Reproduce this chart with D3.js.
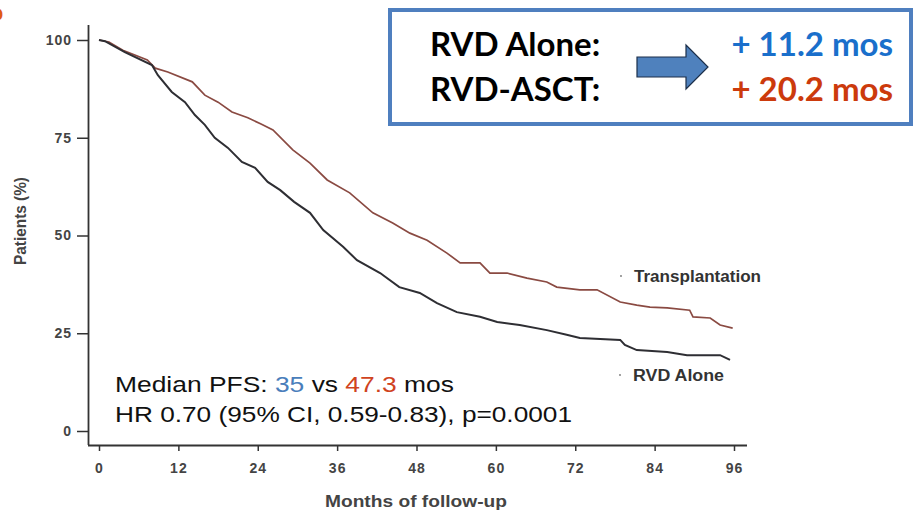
<!DOCTYPE html>
<html>
<head>
<meta charset="utf-8">
<script src="https://cdn.jsdelivr.net/npm/d3@7"></script>
<style>
  body { margin: 0; background: #fff; }
  svg { display: block; }
</style>
</head>
<body>
<svg id="chart" width="918" height="514"></svg>
<script>
// KM curves: [month, % patients]
const rvdAlone = [
  [0, 100], [0.9, 99.7], [3.9, 96.9], [8.0, 93.6], [8.9, 91.0], [11.0, 86.7],
  [13.0, 84.1], [14.5, 80.8], [16.0, 78.3], [17.5, 75.0], [19.5, 72.4],
  [21.6, 68.8], [23.6, 67.3], [25.5, 63.7], [27.4, 61.6], [29.5, 58.6],
  [31.9, 55.8], [33.9, 51.4], [36.9, 47.1], [39.0, 43.7], [42.5, 40.4],
  [45.4, 36.8], [48.5, 35.3], [51.1, 32.7], [54.1, 30.4], [57.6, 29.2],
  [60.2, 27.9], [63.6, 27.1], [67.7, 25.8], [70.7, 24.6], [72.7, 23.8],
  [78.8, 23.3], [79.5, 22.0], [81.3, 20.7], [85.9, 20.2], [88.9, 19.4],
  [93.9, 19.4], [95.4, 18.2]
];
const transplant = [
  [0, 100], [1.5, 99.5], [3.6, 97.4], [7.3, 94.9], [8.5, 92.8], [10.4, 91.8],
  [14.1, 89.3], [16.0, 85.9], [18.0, 84.1], [20.1, 81.6], [22.5, 80.1],
  [24.5, 78.5], [26.3, 77.0], [29.3, 71.9], [31.9, 68.5], [34.5, 64.2],
  [37.9, 60.9], [41.4, 55.8], [44.4, 53.2], [47.0, 50.6], [49.6, 48.8],
  [52.6, 45.5], [54.6, 43.0], [57.6, 43.0], [59.1, 40.4], [61.7, 40.4],
  [64.7, 39.1], [67.7, 38.1], [69.2, 36.8], [72.7, 36.1], [75.3, 36.1],
  [78.8, 33.0], [81.3, 32.2], [83.3, 31.7], [85.9, 31.5], [89.3, 30.9],
  [89.8, 29.2], [92.4, 28.9], [93.9, 27.1], [95.8, 26.3]
];
const xTicks = [0, 12, 24, 36, 48, 60, 72, 84, 96];
const yTicks = [0, 25, 50, 75, 100];

const svg = d3.select("#chart");

const x = d3.scaleLinear().domain([0, 96]).range([99, 734]);
const y = d3.scaleLinear().domain([0, 100]).range([431, 40]);

const axisColor = "#333";
const labelColor = "#444";
const sans = "'Liberation Sans', Arial, sans-serif";

// axes
const gx = svg.append("g")
  .attr("transform", "translate(0,445)")
  .call(d3.axisBottom(x).tickValues(xTicks).tickSize(6).tickSizeOuter(0).tickPadding(12));
gx.select(".domain").attr("d", "M88,0.5H747");

const gy = svg.append("g")
  .attr("transform", "translate(88,0)")
  .call(d3.axisLeft(y).tickValues(yTicks).tickSize(11).tickSizeOuter(0).tickPadding(5));
gy.select(".domain").attr("d", "M0.5,25V445");

[gx, gy].forEach(g => {
  g.selectAll(".domain").attr("stroke", axisColor).attr("stroke-width", 1.8);
  g.selectAll(".tick line").attr("stroke", axisColor).attr("stroke-width", 1.5);
  g.selectAll(".tick text")
    .attr("fill", labelColor)
    .style("font-family", sans)
    .style("font-size", "14px")
    .style("font-weight", "bold")
    .style("letter-spacing", "1px");
});

svg.append("text")
  .attr("x", 325).attr("y", 507)
  .attr("fill", labelColor)
  .attr("textLength", 182)
  .attr("lengthAdjust", "spacingAndGlyphs")
  .style("font-family", sans)
  .style("font-size", "17px")
  .style("font-weight", "bold")
  .text("Months of follow-up");

svg.append("text")
  .attr("transform", "translate(26,221) rotate(-90)")
  .attr("text-anchor", "middle")
  .attr("fill", labelColor)
  .attr("textLength", 88)
  .attr("lengthAdjust", "spacingAndGlyphs")
  .style("font-family", sans)
  .style("font-size", "16px")
  .style("font-weight", "bold")
  .text("Patients (%)");

// curves
const line = d3.line().x(d => x(d[0])).y(d => y(d[1]));

svg.append("path")
  .datum(transplant)
  .attr("d", line)
  .attr("fill", "none")
  .attr("stroke", "#8a4a42")
  .attr("stroke-width", 1.7);

svg.append("path")
  .datum(rvdAlone)
  .attr("d", line)
  .attr("fill", "none")
  .attr("stroke", "#2e2e33")
  .attr("stroke-width", 2);

// curve labels
const curveLabels = [
  { text: "Transplantation", px: 634, py: 282, dx: 621, width: 127 },
  { text: "RVD Alone", px: 633, py: 381, dx: 620, width: 91 }
];
curveLabels.forEach(l => {
  svg.append("text")
    .attr("x", l.px).attr("y", l.py)
    .attr("fill", "#333")
    .attr("textLength", l.width)
    .attr("lengthAdjust", "spacingAndGlyphs")
    .style("font-family", sans)
    .style("font-size", "16px")
    .style("font-weight", "bold")
    .text(l.text);
  svg.append("circle")
    .attr("cx", l.dx).attr("cy", l.py - 6).attr("r", 0.9)
    .attr("fill", "#777");
});

// median annotation
const t1 = svg.append("text")
  .attr("x", 115).attr("y", 392)
  .attr("textLength", 339)
  .attr("lengthAdjust", "spacingAndGlyphs")
  .style("font-family", sans)
  .style("font-size", "22px")
  .attr("fill", "#111");
t1.append("tspan").text("Median PFS: ");
t1.append("tspan").attr("fill", "#4a7ebb").text("35");
t1.append("tspan").text(" vs ");
t1.append("tspan").attr("fill", "#d0431e").text("47.3");
t1.append("tspan").text(" mos");

svg.append("text")
  .attr("x", 115).attr("y", 422)
  .attr("textLength", 457)
  .attr("lengthAdjust", "spacingAndGlyphs")
  .style("font-family", sans)
  .style("font-size", "22px")
  .attr("fill", "#111")
  .text("HR 0.70 (95% CI, 0.59-0.83), p=0.0001");

// gain box
svg.append("rect")
  .attr("x", 390).attr("y", 10)
  .attr("width", 521).attr("height", 114)
  .attr("fill", "#fff")
  .attr("stroke", "#4f7fbf")
  .attr("stroke-width", 4);

const boxFont = "Lato, 'Open Sans', sans-serif";
const boxRows = [
  { label: "RVD Alone:", gain: "+ 11.2 mos", color: "#1a6fcb", y: 56 },
  { label: "RVD-ASCT:", gain: "+ 20.2 mos", color: "#cc3a0c", y: 101 }
];
boxRows.forEach(r => {
  svg.append("text")
    .attr("x", 430).attr("y", r.y)
    .attr("fill", "#000")
    .style("font-family", boxFont)
    .style("font-size", "33px")
    .style("font-weight", "bold")
    .text(r.label);
  svg.append("text")
    .attr("x", 893).attr("y", r.y)
    .attr("text-anchor", "end")
    .attr("fill", r.color)
    .style("font-family", boxFont)
    .style("font-size", "33px")
    .style("font-weight", "bold")
    .text(r.gain);
});

// block arrow
const arrow = d3.path();
arrow.moveTo(637, 57);
arrow.lineTo(686, 57);
arrow.lineTo(686, 45);
arrow.lineTo(708, 67);
arrow.lineTo(686, 89);
arrow.lineTo(686, 77);
arrow.lineTo(637, 77);
arrow.closePath();
svg.append("path")
  .attr("d", arrow.toString())
  .attr("fill", "#4f81bd")
  .attr("stroke", "#1c2f4a")
  .attr("stroke-width", 1.2);

// panel letter, mostly outside the frame in the source
svg.append("text")
  .attr("x", -9).attr("y", 20)
  .attr("fill", "#e05a14")
  .style("font-family", sans)
  .style("font-size", "20px")
  .style("font-weight", "bold")
  .text("b");
</script>
</body>
</html>
